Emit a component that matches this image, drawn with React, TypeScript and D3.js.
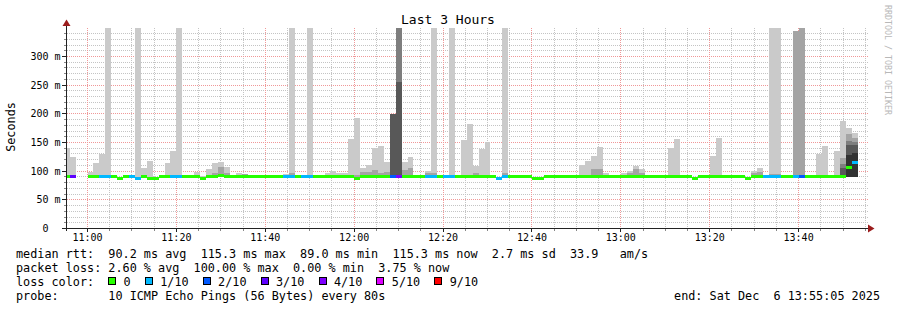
import React from 'react';
import * as d3 from 'd3';

// ---------------- data ----------------
const TITLE = 'Last 3 Hours';
const Y_TITLE = 'Seconds';
const WATERMARK = 'RRDTOOL / TOBI OETIKER';
const RANGE_START = '10:55:05';
const RANGE_END = '13:55:05';
const FIRST_SAMPLE = '10:54:40';
const STEP_SECONDS = 80;
const Y_MAX_MS = 350;
const MIN_RTT_MS = 89.0;

const Y_TICKS_MS = [0, 50, 100, 150, 200, 250, 300];
const Y_TICK_LABELS = ['0  ', '50 m', '100 m', '150 m', '200 m', '250 m', '300 m'];
const X_TICK_LABELS = ['11:00', '11:20', '11:40', '12:00', '12:20', '12:40', '13:00', '13:20', '13:40'];

// one entry per 80 s sample, first sample starts 10:54:40 (null = no data)
const MEDIAN_MS: (number | null)[] = [
  90, 90, null, null,
  90, 90, 90, 90, 90, 88, 90, 90, 88, 90,
  88, 88, 90, 90, 90, 90, 90, 90, 90, 88,
  90, 91, 93, 90, 90, 90, 90, 90, 90, 90,
  90, 90, 90, 90, 90, 90, 90, 90, 90, 90,
  90, 90, 90, 90, 90, 88, 90, 90, 90, 90,
  90, 90, 90, 90, 90, 90, 90, 90, 90, 90,
  90, 90, 90, 90, 90, 90, 90, 90, 90, 88,
  90, 90, 90, 90, 90, 88, 88, 90, 90, 90,
  90, 90, 90, 90, 90, 90, 90, 90, 90, 90,
  90, 90, 90, 90, 90, 90, 90, 90, 90, 90,
  90, 90, 88, 90, 90, 90, 90, 90, 90, 90,
  90, 88, 90, 90, 90, 90, 90, 90, 91, 90,
  90, 90, 90, 90, 90, 90, 90, 91, 106, 115,
];

// lost pings out of 10
const LOST_PINGS: (number | null)[] = [
  0, 3, null, null,
  0, 0, 1, 1, 0, 0, 0, 1, 1, 0,
  0, 0, 0, 0, 1, 1, 0, 0, 0, 0,
  0, 0, 0, 0, 0, 0, 0, 0, 0, 0,
  0, 0, 0, 1, 1, 0, 1, 1, 0, 0,
  0, 0, 0, 0, 0, 0, 0, 0, 0, 0,
  0, 2, 4, 0, 0, 0, 0, 1, 1, 0,
  1, 1, 0, 0, 0, 0, 0, 0, 0, 1,
  1, 0, 0, 0, 0, 0, 0, 0, 0, 0,
  0, 0, 0, 0, 0, 0, 0, 0, 0, 0,
  0, 0, 0, 0, 0, 0, 0, 0, 0, 0,
  0, 0, 0, 0, 0, 0, 0, 0, 0, 0,
  0, 0, 0, 0, 1, 1, 1, 0, 0, 1,
  2, 0, 0, 0, 0, 0, 0, 0, 0, 1,
];

// highest ping of each sample (outer smoke)
const SMOKE_MAX_MS: (number | null)[] = [
  140, 125, null, null,
  99, 114, 130, 350, null, null, null, null, 350, 105,
  118, null, 94, 114, 135, 350, null, 94, 98, 92,
  103, 114, 116, 107, null, 96, 95, null, 93, 93,
  null, null, null, 95, 350, null, null, 350, null, null,
  96, 100, 96, 96, 156, 193, 105, 110, 140, 144,
  116, 200, 350, 116, 125, null, null, 100, 350, null,
  null, 350, null, 155, 182, 109, 139, 151, null, null,
  350, 94, 94, 92, null, null, null, 94, 94, null,
  92, null, null, 110, 118, 127, 142, 96, null, 94,
  97, 101, 109, 103, 93, null, 94, null, 140, 156,
  null, null, null, null, null, 126, 158, null, null, 94,
  94, null, 100, 105, null, 350, 350, null, null, 344,
  350, 94, null, 130, 144, null, 135, 188, 176, 166,
];

// inner smoke layers: [sample index, upper ping value]
const SMOKE_2_MS: [number, number][] = [
  [5, 94], [25, 96], [26, 107], [27, 96], [30, 95], [38, 96], [48, 93], [49, 94],
  [50, 99], [51, 99], [52, 102], [53, 97], [54, 98], [55, 200], [56, 350], [57, 102],
  [58, 105], [61, 96], [62, 96], [65, 94], [68, 94], [69, 97], [74, 96], [88, 94],
  [89, 103], [90, 103], [95, 96], [96, 103], [97, 96], [103, 93], [116, 96], [117, 98],
  [119, 95], [120, 95], [123, 344], [124, 350], [131, 123], [132, 165], [133, 158],
];
const SMOKE_3_MS: [number, number][] = [[55, 200], [56, 350], [131, 113], [132, 152], [133, 150]];
const SMOKE_4_MS: [number, number][] = [[55, 200], [56, 256], [131, 105], [132, 145], [133, 145]];
const SMOKE_5_MS: [number, number][] = [[132, 128], [133, 131]];

const LOSS_LEVELS = [0, 1, 2, 3, 4, 5, 9];
const LOSS_LABELS = ['0', '1/10', '2/10', '3/10', '4/10', '5/10', '9/10'];
const LOSS_COLORS = ['#26ff00', '#00b8ff', '#0059ff', '#5e00ff', '#7e00ff', '#dd00ff', '#ff0000'];
const SMOKE_COLORS = ['#cacaca', '#a4a4a4', '#7e7e7e', '#585858', '#323232'];

const LEGEND_RTT = 'median rtt:  90.2 ms avg  115.3 ms max  89.0 ms min  115.3 ms now  2.7 ms sd  33.9   am/s';
const LEGEND_LOSS = 'packet loss: 2.60 % avg  100.00 % max  0.00 % min  3.75 % now';
const LEGEND_COLOR = 'loss color:';
const LEGEND_PROBE = 'probe:       10 ICMP Echo Pings (56 Bytes) every 80s';
const LEGEND_END = 'end: Sat Dec  6 13:55:05 2025';

// ---------------- helpers ----------------
const toSec = (s: string) => {
  const [h, m, sec] = s.split(':').map(Number);
  return h * 3600 + m * 60 + (sec || 0);
};
const MONO = "'DejaVu Sans Mono', monospace";
const PRE = { whiteSpace: 'pre' as const };

export default function App() {
  const W = 897;
  const H = 310;
  const left = 65.65, right = 865.65, bottom = 228.5, top = 27.83;

  const x = d3.scaleLinear().domain([toSec(RANGE_START), toSec(RANGE_END)]).range([left, right]);
  const y = d3.scaleLinear().domain([0, Y_MAX_MS]).range([bottom, top]).clamp(true);
  const t0 = toSec(FIRST_SAMPLE);

  const layerMaps = [SMOKE_2_MS, SMOKE_3_MS, SMOKE_4_MS, SMOKE_5_MS].map((a) => new Map(a));

  const samples = MEDIAN_MS.map((m, k) => {
    const ts = t0 + k * STEP_SECONDS;
    const x0 = Math.round(Math.max(x(ts), left));
    const x1 = Math.round(Math.min(x(ts + STEP_SECONDS), right));
    const layers = [SMOKE_MAX_MS[k], ...layerMaps.map((mp) => mp.get(k) ?? null)];
    return { k, x0, x1, median: m, lost: LOST_PINGS[k], layers };
  });

  const snapY = (v: number) => Math.floor(y(v)) + 0.5;
  const snapX = (t: number) => Math.floor(x(t)) + 0.5;

  const minorH = d3.range(10, Y_MAX_MS, 10).filter((v) => v % 50 !== 0);
  const majorH = Y_TICKS_MS.filter((v) => v > 0);
  const allV = d3.range(toSec('10:55:00'), toSec(RANGE_END) + 1, 300).filter((t) => x(t) > left + 0.5);
  const majorT = X_TICK_LABELS.map(toSec);
  const minorV = allV.filter((t) => !majorT.includes(t));

  const lossColor = (lost: number) => {
    let idx = 0;
    LOSS_LEVELS.forEach((lv, i) => { if (lost >= lv) idx = i; });
    return LOSS_COLORS[idx];
  };

  // legend color boxes layout
  const charW = 7.1;
  let cursor = 108.3;
  const legendBoxes = LOSS_LABELS.map((lab, i) => {
    const bx = cursor;
    const lx = bx + 15.3;
    cursor = lx + lab.length * charW + 14.2;
    return { bx, lx, lab, color: LOSS_COLORS[i] };
  });

  const axisCol = '#222';
  const gridCol = '#c4c4c4';
  const mgridCol = '#f09898';
  const arrowCol = '#9b1c1c';

  return (
    <svg width={W} height={H} style={{ position: 'absolute', left: 0, top: 0, background: '#fff' }}>
      <rect x={0} y={0} width={W} height={H} fill="#fff" />
      {/* grid */}
      <g shapeRendering="crispEdges" strokeDasharray="1,1">
        {minorH.map((v) => (
          <line key={'h' + v} x1={left + 1} x2={868} y1={snapY(v)} y2={snapY(v)} stroke={gridCol} />
        ))}
        {minorV.map((t) => (
          <line key={'v' + t} x1={snapX(t)} x2={snapX(t)} y1={top} y2={bottom} stroke={gridCol} />
        ))}
        {majorH.map((v) => (
          <line key={'H' + v} x1={left + 1} x2={868} y1={snapY(v)} y2={snapY(v)} stroke={mgridCol} />
        ))}
        {majorT.map((t) => (
          <line key={'V' + t} x1={snapX(t)} x2={snapX(t)} y1={top} y2={bottom} stroke={mgridCol} />
        ))}
      </g>

      {/* smoke */}
      <g shapeRendering="crispEdges">
        {SMOKE_COLORS.map((col, li) =>
          samples.map((s) => {
            const v = s.layers[li];
            if (v == null || s.median == null) return null;
            const yt = Math.round(y(v));
            const yb = Math.round(y(MIN_RTT_MS));
            if (yb - yt <= 0) return null;
            return <rect key={`s${li}-${s.k}`} x={s.x0} width={s.x1 - s.x0} y={yt} height={yb - yt} fill={col} />;
          })
        )}
      </g>

      {/* median */}
      <g shapeRendering="crispEdges">
        {samples.map((s) => {
          if (s.median == null || s.lost == null) return null;
          const yc = y(s.median);
          return (
            <rect key={'m' + s.k} x={s.x0} width={s.x1 - s.x0} y={Math.round(yc - 1.5)} height={3} fill={lossColor(s.lost)} />
          );
        })}
      </g>

      {/* axes */}
      <g shapeRendering="crispEdges" stroke={axisCol}>
        <line x1={62} x2={869} y1={228.5} y2={228.5} />
        <line x1={66.5} x2={66.5} y1={231} y2={25} />
        {majorH.map((v) => (
          <line key={'yt' + v} x1={62} x2={66} y1={snapY(v)} y2={snapY(v)} />
        ))}
        {minorH.map((v) => (
          <line key={'ymt' + v} x1={64} x2={66} y1={snapY(v)} y2={snapY(v)} stroke="#888" />
        ))}
        {majorT.map((t) => (
          <line key={'xt' + t} x1={snapX(t)} x2={snapX(t)} y1={229} y2={232} />
        ))}
        {minorV.map((t) => (
          <line key={'xmt' + t} x1={snapX(t)} x2={snapX(t)} y1={229} y2={231} stroke="#888" />
        ))}
      </g>
      <path d="M868,224.5 L874.5,228.5 L868,232.5 Z" fill={arrowCol} />
      <path d="M62.5,26 L66.5,19.5 L70.5,26 Z" fill={arrowCol} />

      {/* axis labels */}
      <g fontFamily={MONO} fontSize={10} fill="#000">
        {Y_TICKS_MS.map((v, i) => (
          <text key={'yl' + v} x={60.5} y={snapY(v) + 3.5} textAnchor="end" xmlSpace="preserve" style={PRE}>
            {Y_TICK_LABELS[i]}
          </text>
        ))}
        {majorT.map((t, i) => (
          <text key={'xl' + t} x={x(t)} y={241} textAnchor="middle">
            {X_TICK_LABELS[i]}
          </text>
        ))}
      </g>

      <text x={448} y={24} fontFamily={MONO} fontSize={13} textAnchor="middle" fill="#000">
        {TITLE}
      </text>
      <text transform="translate(15,127) rotate(-90)" fontFamily={MONO} fontSize={11.8} textAnchor="middle" fill="#000">
        {Y_TITLE}
      </text>
      <text transform="translate(884.5,5) rotate(90)" fontFamily={MONO} fontSize={8.3} fill="#b8b8b8">
        {WATERMARK}
      </text>

      {/* legend */}
      <g fontFamily={MONO} fontSize={11.8} fill="#000">
        <text x={16} y={258.4} xmlSpace="preserve" style={PRE}>{LEGEND_RTT}</text>
        <text x={16} y={272.4} xmlSpace="preserve" style={PRE}>{LEGEND_LOSS}</text>
        <text x={16} y={286.4} xmlSpace="preserve" style={PRE}>{LEGEND_COLOR}</text>
        {legendBoxes.map((b) => (
          <g key={b.lab}>
            <rect x={Math.round(b.bx) + 0.5} y={277.5} width={7} height={7} fill={b.color} stroke="#000" strokeWidth={1} shapeRendering="crispEdges" />
            <text x={b.lx} y={286.4}>{b.lab}</text>
          </g>
        ))}
        <text x={16} y={300.2} xmlSpace="preserve" style={PRE}>{LEGEND_PROBE}</text>
        <text x={880} y={300.2} textAnchor="end" xmlSpace="preserve" style={PRE}>{LEGEND_END}</text>
      </g>
    </svg>
  );
}
